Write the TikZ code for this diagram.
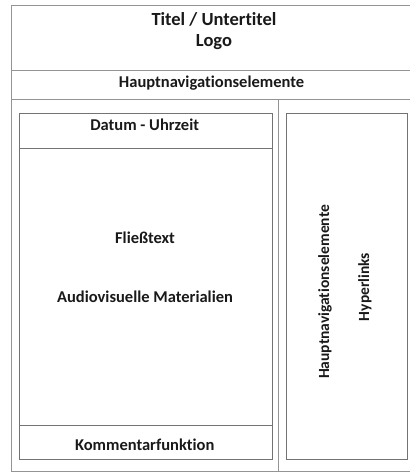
\documentclass[tikz,border=0pt]{standalone}
\usepackage{fontspec}
\setmainfont{Carlito}[Ligatures=NoCommon]
\begin{document}
\begin{tikzpicture}[x=1pt,y=-1pt,
  frame/.style={draw=black!42,line width=0.9pt},
  panel/.style={draw=black!55,line width=0.8pt},
  label/.style={font=\bfseries\fontsize{16.5}{19}\selectfont,text=black!90,inner sep=0pt,anchor=base},
  sidelabel/.style={font=\bfseries\fontsize{15.5}{19}\selectfont,text=black!90,inner sep=0pt,rotate=90},
  title/.style={font=\bfseries\fontsize{18.5}{21}\selectfont,text=black!90,inner sep=0pt,align=center}]
  \useasboundingbox (0,0) rectangle (409,473);
  % outer page frame with header and navigation bands
  \draw[frame] (11,5) -- (412,5);
  \draw[frame] (11,5) -- (11,471) -- (412,471);
  \draw[frame] (11,70.5) -- (412,70.5);
  \draw[frame] (11,99) -- (412,99);
  \draw[frame] (278,99) -- (278,471);
  % main content column
  \draw[panel] (19,113) rectangle (272,459);
  \draw[panel] (19,148) -- (272,148);
  \draw[panel] (19,425) -- (272,425);
  % sidebar
  \draw[panel] (286,113) rectangle (407.6,459);
  % texts
  \node[title] (title) at (214,31) {Titel / Untertitel\\Logo};
  \node[label] (nav) at (211.5,87.3) {Hauptnavigationselemente};
  \node[label] (date) at (144.7,130.7) {Datum - Uhrzeit};
  \node[label] (text) at (145,243.3) {Fließtext};
  \node[label] (media) at (145,302) {Audiovisuelle Materialien};
  \node[label] (comment) at (144.7,450) {Kommentarfunktion};
  \node[sidelabel] (sidenav) at (325,292) {Hauptnavigationselemente};
  \node[sidelabel] (links) at (365,287) {Hyperlinks};
\end{tikzpicture}
\end{document}
